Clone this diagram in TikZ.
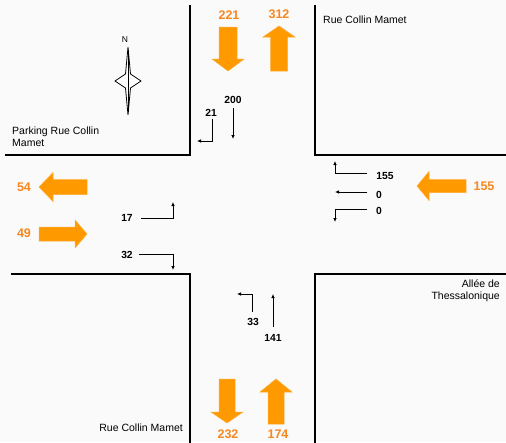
\documentclass[tikz,border=0pt]{standalone}
\usepackage{fontspec}
\setmainfont{Liberation Sans}
\usetikzlibrary{arrows.meta}
\definecolor{arrorange}{HTML}{FF9900}
\definecolor{txtorange}{HTML}{F7871F}
\definecolor{bg}{HTML}{FAFAFA}
\tikzset{
  road/.style={line width=2.6pt, line cap=rect},
  bigarrow/.style={fill=arrorange, draw=arrorange!80!white, line width=0.5pt},
  bignum/.style={text=txtorange, font=\fontsize{12.5}{12.5}\selectfont\bfseries, inner sep=0pt},
  smallnum/.style={font=\fontsize{10.3}{10.3}\selectfont\bfseries, inner sep=0pt},
  lbl/.style={font=\fontsize{10.5}{12}\selectfont, inner sep=0pt, align=left},
  flow/.style={line width=0.8pt, -{Latex[length=4pt,width=3.6pt]}},
}
\begin{document}
\begin{tikzpicture}[x=1pt,y=-1pt]
\useasboundingbox (0,0) rectangle (506,442);
\fill[bg] (0,0) rectangle (506,442);
% road edges
\draw[road] (190,6) -- (190,155) -- (6,155);
\draw[road] (315,6) -- (315,155) -- (506,155);
\draw[road] (12,274) -- (190,274) -- (190,442);
\draw[road] (506,274) -- (315,274) -- (315,442);
% compass
\node[lbl, font=\fontsize{8.5}{8.5}\selectfont] (N) at (125,40) {N};
\draw[line width=0.8pt, fill=white] (128,47) -- (130.5,74) -- (141,81) -- (130.5,88) -- (128,115) -- (125.5,88) -- (115,81) -- (125.5,74) -- cycle;
\draw[line width=0.4pt] (128,50) -- (128,112);
% big orange arrows
\draw[bigarrow] (219,27) -- (237,27) -- (237,59) -- (244,59) -- (228,71) -- (212,59) -- (219,59) -- cycle;
\draw[bigarrow] (279,26) -- (295,37) -- (287.5,37) -- (287.5,71) -- (270.5,71) -- (270.5,37) -- (263,37) -- cycle;
\draw[bigarrow] (39,187) -- (53,172.5) -- (53,179.5) -- (87,179.5) -- (87,194.5) -- (53,194.5) -- (53,201.5) -- cycle;
\draw[bigarrow] (87,234) -- (75,248) -- (75,241) -- (39,241) -- (39,227) -- (75,227) -- (75,220) -- cycle;
\draw[bigarrow] (417,186) -- (429,171.5) -- (429,179.5) -- (466,179.5) -- (466,192.5) -- (429,192.5) -- (429,200.5) -- cycle;
\draw[bigarrow] (219,379) -- (235,379) -- (235,412) -- (243,412) -- (227,423) -- (211,412) -- (219,412) -- cycle;
\draw[bigarrow] (276,379) -- (292,392) -- (284,392) -- (284,424) -- (268,424) -- (268,392) -- (260,392) -- cycle;
% big numbers
\node[bignum] (n221) at (229,15) {221};
\node[bignum] (n312) at (279,14) {312};
\node[bignum] (n54) at (24,187) {54};
\node[bignum] (n49) at (24,233) {49};
\node[bignum] (n155b) at (484,186) {155};
\node[bignum] (n232) at (228,434) {232};
\node[bignum] (n174) at (278,434) {174};
% small flows
\node[smallnum] (s200) at (233,100) {200};
\draw[flow] (233,108) -- (233,139);
\node[smallnum] (s21) at (211,113) {21};
\draw[flow] (212,119) -- (212,141) -- (197,141);
\node[smallnum] (s17) at (127,218) {17};
\draw[flow] (141,218) -- (173,218) -- (173,202);
\node[smallnum] (s32) at (127,255) {32};
\draw[flow] (139,254) -- (173,254) -- (173,270);
\node[smallnum] (s155) at (385,176) {155};
\draw[flow] (367,173) -- (335,173) -- (335,161);
\node[smallnum] (s0a) at (379,195) {0};
\draw[flow] (367,192) -- (335,192);
\node[smallnum] (s0b) at (379,211) {0};
\draw[flow] (367,209) -- (335,209) -- (335,222);
\node[smallnum] (s33) at (253,322) {33};
\draw[flow] (252,312) -- (252,294) -- (237,294);
\node[smallnum] (s141) at (273,338) {141};
\draw[flow] (273,327) -- (273,294);
% labels
\node[lbl, anchor=north west] (park) at (12,127) {Parking Rue Collin\\Mamet};
\node[lbl, anchor=west] (rcm1) at (323,20) {Rue Collin Mamet};
\node[lbl, anchor=north east, align=right] (allee) at (500,280) {Allée de\\Thessalonique};
\node[lbl, anchor=east] (rcm2) at (183,428) {Rue Collin Mamet};
\end{tikzpicture}
\end{document}
